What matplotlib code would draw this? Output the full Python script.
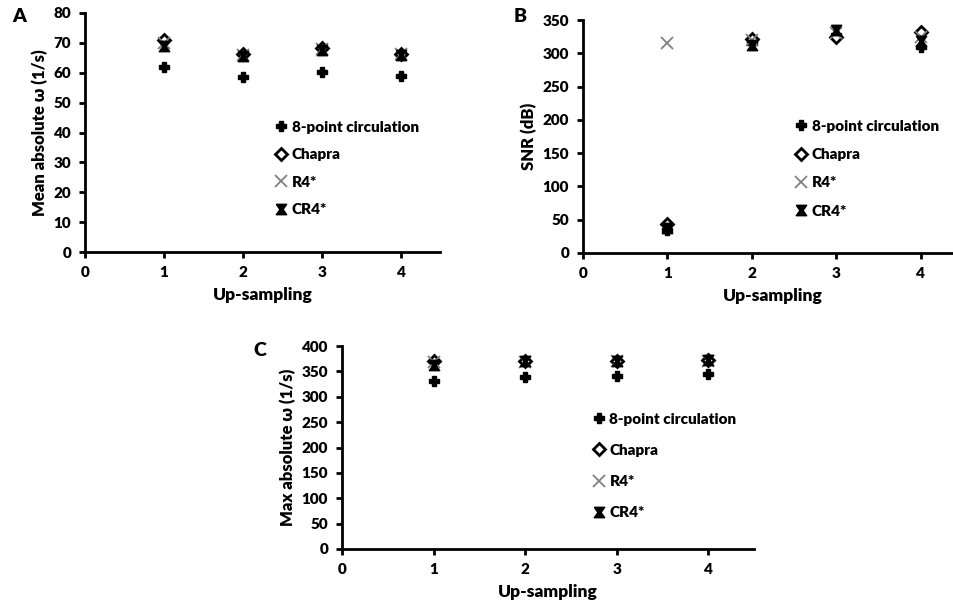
import matplotlib
matplotlib.use("Agg")
import matplotlib.pyplot as plt

plt.rcParams['font.family'] = ['Lato', 'DejaVu Sans']
plt.rcParams['font.weight'] = 'bold'

upsampling = [1, 2, 3, 4]
series_names = ["8-point circulation", "Chapra", "R4*", "CR4*"]

# Panel A: Mean absolute omega (1/s)
mean_8pt = [62, 58.5, 60.2, 59]
mean_chapra = [70.8, 66.2, 68.2, 66.3]
mean_r4 = [70, 66, 68, 66.2]
mean_cr4 = [69, 65.5, 67.6, 66]

# Panel B: SNR (dB)
snr_8pt = [35, 315, 328, 310]
snr_chapra = [43, 322, 325, 332]
snr_r4 = [315, 320, 330, 325]
snr_cr4 = [38, 312, 335, 318]

# Panel C: Max absolute omega (1/s)
max_8pt = [331, 339, 341, 344]
max_chapra = [370, 370, 370, 372]
max_r4 = [368, 369, 370, 371]
max_cr4 = [362, 370, 371, 372]

W, H = 954, 610
fig = plt.figure(figsize=(W / 100, H / 100), dpi=100)

bowtie = [(-1, 1), (1, 1), (0.3, 0), (1, -1), (-1, -1), (-0.3, 0), (-1, 1)]


def px_axes(left, right, top, bottom):
    return fig.add_axes([left / W, 1 - bottom / H, (right - left) / W, (bottom - top) / H])


def draw(ax, data, ymax, ystep, ylabel, legend_anchor, lspacing, letter, letter_pos):
    s8, sc, sr, scr = data
    ax.plot(upsampling, s8, linestyle='none', marker='P', ms=7, color='black',
            mec='black', label=series_names[0])
    ax.plot(upsampling, sc, linestyle='none', marker='D', ms=6, mfc='white',
            mec='black', mew=2, label=series_names[1])
    ax.plot(upsampling, sr, linestyle='none', marker='x', ms=9, color='#808080',
            mew=1.3, label=series_names[2])
    ax.plot(upsampling, scr, linestyle='none', marker=bowtie, ms=7.5, color='black',
            label=series_names[3])
    ax.set_xlim(0, 4.5)
    ax.set_ylim(0, ymax)
    ax.set_xticks([0, 1, 2, 3, 4])
    ax.set_yticks(list(range(0, ymax + 1, ystep)))
    for s in ['top', 'right']:
        ax.spines[s].set_visible(False)
    for s in ['left', 'bottom']:
        ax.spines[s].set_linewidth(2)
    ax.tick_params(direction='out', length=4, width=2, labelsize=11, pad=6)
    for lab in ax.get_xticklabels() + ax.get_yticklabels():
        lab.set_fontweight('heavy')
    ax.set_xlabel('Up-sampling', fontsize=12.5, fontweight='heavy', labelpad=6)
    ax.set_ylabel(ylabel, fontsize=12, fontweight='heavy', labelpad=4)
    ax.legend(loc='upper left', bbox_to_anchor=legend_anchor, frameon=False,
              borderpad=0, handlelength=1, handletextpad=0.2,
              labelspacing=lspacing, prop={'size': 11, 'weight': 'heavy'})
    fig.text(letter_pos[0] / W, 1 - letter_pos[1] / H, letter, fontsize=14,
             fontweight='heavy', ha='left', va='center')


axA = px_axes(85, 440.5, 13, 252)
draw(axA, (mean_8pt, mean_chapra, mean_r4, mean_cr4), 80, 10,
     'Mean absolute ω (1/s)', (0.508, 0.582), 0.95, 'A', (12, 17))

axB = px_axes(583, 963, 20, 253)
draw(axB, (snr_8pt, snr_chapra, snr_r4, snr_cr4), 350, 50,
     'SNR (dB)', (0.533, 0.605), 1.0, 'B', (514, 17))

axC = px_axes(342, 754, 346, 549)
draw(axC, (max_8pt, max_chapra, max_r4, max_cr4), 400, 50,
     'Max absolute ω (1/s)', (0.586, 0.71), 1.19, 'C', (253, 350))

fig.savefig('out.png', dpi=100)
